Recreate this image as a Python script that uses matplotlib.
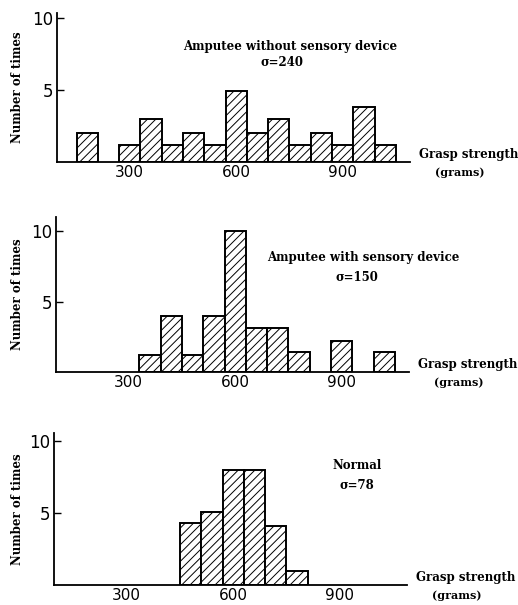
import matplotlib
matplotlib.use('Agg')
import matplotlib.pyplot as plt

# bin centres (grams), 60 g bins
centers = [180, 240, 300, 360, 420, 480, 540, 600, 660, 720, 780, 840, 900, 960, 1020]

without_device = [2, 0, 1.2, 3, 1.2, 2, 1.2, 4.9, 2, 3, 1.2, 2, 1.2, 3.8, 1.2]
with_device = [0, 0, 0, 1.2, 4, 1.2, 4, 10, 3.1, 3.1, 1.4, 0, 2.2, 0, 1.4]
normal = [0, 0, 0, 0, 0, 4.3, 5.1, 8, 8, 4.1, 1, 0, 0, 0, 0]

titles = ['Amputee without sensory device', 'Amputee with sensory device', 'Normal']
sigmas = ['σ=240', 'σ=150', 'σ=78']
x_ticks = [300, 600, 900]
y_ticks = [5, 10]

plt.rcParams['hatch.linewidth'] = 0.7

fig = plt.figure(figsize=(5.18, 6.05), dpi=100)

W, H = 518, 605
# (left px, baseline px, top px, ylim top, title xy, sigma xy)
panels = [
    (57, 162, 13, 10.35, (752, 8.0), (729, 6.9)),
    (56, 372, 217, 11.0, (960, 8.1), (943, 6.7)),
    (54, 585, 433, 10.55, (949, 8.3), (949, 6.9)),
]
series = [without_device, with_device, normal]

for i, (left, base, top, ytop, tpos, spos) in enumerate(panels):
    ax = fig.add_axes([left / W, 1 - base / H, 353 / W, (base - top) / H])
    xs = [c for c, v in zip(centers, series[i]) if v > 0]
    hs = [v for v in series[i] if v > 0]
    ax.bar(xs, hs, width=60, color='white', edgecolor='black',
           linewidth=1.4, hatch='////')

    ax.set_xlim(95, 1090)
    ax.set_ylim(0, ytop)
    ax.spines['top'].set_visible(False)
    ax.spines['right'].set_visible(False)
    ax.spines['left'].set_linewidth(1.3)
    ax.spines['bottom'].set_linewidth(1.3)

    ax.set_xticks(x_ticks)
    ax.set_yticks(y_ticks)
    ax.tick_params(axis='x', length=0, pad=2, labelsize=11)
    ax.tick_params(axis='y', direction='in', length=5, width=1, pad=3, labelsize=12)

    ax.text(tpos[0], tpos[1], titles[i], ha='center', va='center',
            fontsize=8.5, family='DejaVu Serif', fontweight='bold')
    ax.text(spos[0], spos[1], sigmas[i], ha='center', va='center',
            fontsize=8.5, family='DejaVu Serif', fontweight='bold')

    ax.text(1.025, 0.05, 'Grasp strength', transform=ax.transAxes,
            ha='left', va='center', fontsize=8.5, family='DejaVu Serif',
            fontweight='bold')
    ax.text(1.14, -0.07, '(grams)', transform=ax.transAxes,
            ha='center', va='center', fontsize=8, family='DejaVu Serif',
            fontweight='bold')

    fig.text(18 / W, 1 - (base + top) / 2 / H, 'Number of times', rotation=90,
             ha='center', va='center', fontsize=8.5, family='DejaVu Serif',
             fontweight='bold')

plt.savefig('out.png', dpi=100)
